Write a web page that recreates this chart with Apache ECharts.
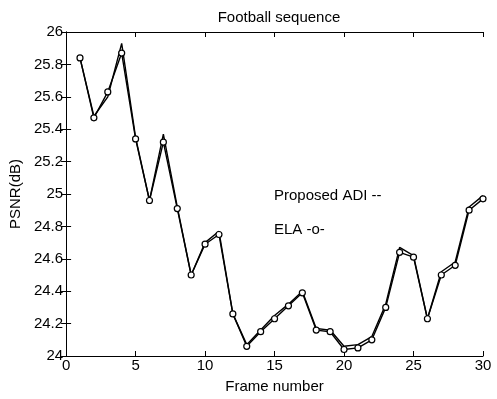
<!DOCTYPE html>
<html>
<head>
<meta charset="utf-8">
<script src="https://cdn.jsdelivr.net/npm/echarts@6/dist/echarts.min.js"></script>
<style>html,body{margin:0;padding:0;background:#fff;}#c{width:497px;height:399px;}</style>
</head>
<body>
<div id="c"></div>
<script>
var frames = [1,2,3,4,5,6,7,8,9,10,11,12,13,14,15,16,17,18,19,20,21,22,23,24,25,26,27,28,29,30];
var adiValues = [25.84,25.48,25.60,25.93,25.35,24.96,25.37,24.92,24.50,24.70,24.77,24.26,24.07,24.16,24.25,24.32,24.40,24.17,24.16,24.06,24.07,24.12,24.32,24.67,24.62,24.23,24.52,24.58,24.92,24.99];
var elaValues = [25.84,25.47,25.63,25.87,25.34,24.96,25.32,24.91,24.50,24.69,24.75,24.26,24.06,24.15,24.23,24.31,24.39,24.16,24.15,24.04,24.05,24.10,24.30,24.64,24.61,24.23,24.50,24.56,24.90,24.97];
var titleText = 'Football sequence';
var xName = 'Frame number';
var yName = 'PSNR(dB)';
var noteAdi = 'Proposed ADI --';
var noteEla = 'ELA -o-';

function pairs(xs, ys){ return xs.map(function(x,i){ return [x, ys[i]]; }); }

var font = 'Liberation Sans, Arial, sans-serif';
var chart = echarts.init(document.getElementById('c'), null, {renderer:'canvas'});
var axisLine = {show:true, lineStyle:{color:'#000', width:1}};
chart.setOption({
  backgroundColor:'#fff',
  animation:false,
  title:{text:titleText, left:274, top:5, textAlign:'center',
    textStyle:{fontFamily:font, fontSize:15, fontWeight:'normal', color:'#000'}},
  grid:{left:65, right:14, top:32, bottom:41},
  xAxis:[{
    type:'value', min:0, max:30, interval:5,
    name:xName, nameLocation:'middle', nameGap:23,
    nameTextStyle:{fontFamily:font, fontSize:15, color:'#000', verticalAlign:'top'},
    axisLine:axisLine, axisTick:{show:true, inside:true, length:5, lineStyle:{color:'#000'}},
    axisLabel:{fontFamily:font, fontSize:15, color:'#000', margin:2},
    splitLine:{show:false}
  },{
    type:'value', min:0, max:30, interval:5, position:'top',
    axisLine:axisLine, axisTick:{show:true, inside:true, length:5, lineStyle:{color:'#000'}},
    axisLabel:{show:false}, splitLine:{show:false}
  }],
  yAxis:[{
    type:'value', min:24, max:26, interval:0.2,
    name:yName, nameLocation:'middle', nameGap:32, nameRotate:90,
    nameTextStyle:{fontFamily:font, fontSize:15, color:'#000'},
    axisLine:axisLine, axisTick:{show:true, inside:true, length:5, lineStyle:{color:'#000'}},
    axisLabel:{fontFamily:font, fontSize:15, color:'#000', margin:3},
    splitLine:{show:false}
  },{
    type:'value', min:24, max:26, interval:0.2, position:'right',
    axisLine:axisLine, axisTick:{show:true, inside:true, length:5, lineStyle:{color:'#000'}},
    axisLabel:{show:false}, splitLine:{show:false}
  }],
  series:[{
    name:'Proposed ADI', type:'line', data:pairs(frames, adiValues),
    showSymbol:false, symbol:'none',
    lineStyle:{color:'#000', width:1.4}
  },{
    name:'ELA', type:'line', data:pairs(frames, elaValues),
    symbol:'circle', symbolSize:6,
    itemStyle:{color:'#fff', borderColor:'#000', borderWidth:1.2},
    lineStyle:{color:'#000', width:1.4}
  }],
  graphic:[
    {type:'text', left:274, top:188, style:{text:noteAdi, fill:'#000', font:'15px '+font}},
    {type:'text', left:274, top:222, style:{text:noteEla, fill:'#000', font:'15px '+font}}
  ]
});
</script>
</body>
</html>
